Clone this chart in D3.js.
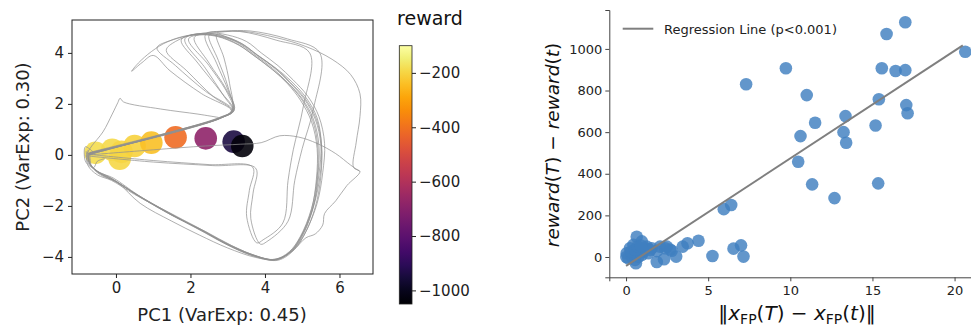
<!DOCTYPE html>
<html><head><meta charset="utf-8">
<script src="https://cdn.jsdelivr.net/npm/d3@7"></script>
<style>body{margin:0;background:#fff}svg{display:block}text{font-family:"DejaVu Sans",sans-serif}</style>
</head><body><svg id="c" width="971" height="326"></svg>
<script>
// ---------- LEFT PANEL DATA (PCA trajectories) ----------
const pcXTicks = [0, 2, 4, 6];
const pcYTicks = [-4, -2, 0, 2, 4];
const rewardTicks = [-200, -400, -600, -800, -1000];
const rewardRange = [-1050, -100];

const trajA1 = [[-0.75,0.05],[-0.7,-0.35],[-0.45,-0.7],[-0.1,-0.95],[0.6,-1.6],[1.5,-2.35],[2.3,-2.95],[3.0,-3.5],[3.7,-3.93],[4.3,-4.12],[4.7,-3.75],[5.0,-3.1],[5.3,-2.0],[5.45,-0.75],[5.5,0.4],[5.35,1.4],[5.05,2.2],[4.65,2.85],[4.3,3.35],[3.8,3.9],[3.4,4.35],[2.8,4.7],[2.2,4.75],[1.6,4.45],[1.35,4.1],[1.9,3.3],[2.6,2.3],[3.1,1.75],[2.8,1.45],[1.3,0.8],[-0.72,0.08]];
const trajA2 = [[-0.78,0.1],[-0.72,-0.3],[-0.5,-0.65],[-0.15,-0.9],[0.55,-1.55],[1.45,-2.3],[2.25,-2.92],[3.05,-3.55],[3.75,-3.97],[4.25,-4.1],[4.65,-3.8],[4.95,-3.2],[5.25,-2.1],[5.4,-0.9],[5.42,0.3],[5.28,1.35],[4.95,2.25],[4.55,2.9],[4.15,3.4],[3.65,3.95],[3.2,4.4],[2.6,4.7],[2.05,4.72],[1.75,4.5],[2.2,3.6],[2.8,2.5],[3.15,1.75],[2.78,1.47],[1.0,0.7],[-0.7,0.02]];
const trajA3 = [[-0.72,0.0],[-0.68,-0.4],[-0.4,-0.75],[0.0,-1.05],[0.7,-1.7],[1.6,-2.45],[2.4,-3.05],[3.1,-3.6],[3.8,-4.0],[4.35,-4.13],[4.8,-3.7],[5.1,-3.0],[5.4,-1.9],[5.55,-0.7],[5.6,0.45],[5.45,1.5],[5.15,2.3],[4.75,2.95],[4.35,3.5],[3.9,4.0],[3.5,4.45],[3.0,4.7],[2.5,4.78],[2.1,4.6],[2.5,3.6],[2.95,2.6],[3.18,1.78],[2.82,1.45],[1.5,0.85],[-0.75,0.06]];
const trajA4 = [[-0.8,0.15],[-0.75,-0.3],[-0.55,-0.6],[-0.2,-0.85],[0.5,-1.5],[1.4,-2.25],[2.2,-2.9],[2.95,-3.5],[3.65,-3.95],[4.25,-4.12],[4.7,-3.8],[5.05,-3.15],[5.35,-2.05],[5.5,-0.85],[5.52,0.35],[5.4,1.45],[5.1,2.25],[4.7,2.9],[4.25,3.45],[3.75,3.95],[3.3,4.4],[2.85,4.65],[2.5,4.7],[2.75,3.7],[3.0,2.7],[3.13,1.72],[2.8,1.46],[0.8,0.6],[-0.72,0.05]];
const trajA5 = [[-0.7,0.05],[-0.65,-0.45],[-0.35,-0.8],[0.05,-1.1],[0.65,-1.9],[1.5,-2.6],[2.25,-3.15],[3.0,-3.65],[3.75,-4.02],[4.3,-4.1],[4.75,-3.72],[5.05,-3.05],[5.32,-1.95],[5.48,-0.8],[5.52,0.35],[5.38,1.4],[5.08,2.2],[4.68,2.85],[4.28,3.4],[3.8,3.92],[3.35,4.38],[3.0,4.6],[2.7,4.72],[2.9,3.8],[3.05,2.8],[3.12,1.74],[2.82,1.44],[2.0,1.1],[-0.7,0.1]];
const trajA6 = [[-0.75,0.2],[-0.72,-0.3],[-0.45,-0.68],[-0.08,-0.9],[0.6,-1.58],[1.45,-2.32],[2.3,-2.95],[3.0,-3.52],[3.7,-3.95],[4.3,-4.1],[4.72,-3.75],[5.02,-3.1],[5.3,-2.0],[5.42,-0.8],[5.45,0.35],[5.3,1.4],[5.0,2.2],[4.6,2.85],[4.2,3.4],[3.7,3.95],[3.2,4.45],[2.6,4.7],[2.0,4.7],[1.4,4.45],[0.95,4.05],[0.6,3.6],[0.42,3.28],[0.7,3.62],[1.0,3.9],[1.45,3.3],[2.3,2.4],[3.1,1.73],[2.78,1.46],[1.6,0.95],[-0.76,0.04]];
const trajA7 = [[-0.8,0.0],[-0.75,-0.42],[-0.5,-0.78],[-0.12,-1.0],[0.5,-1.55],[1.35,-2.2],[2.2,-2.85],[2.95,-3.45],[3.65,-3.9],[4.2,-4.1],[4.65,-3.85],[4.95,-3.25],[5.25,-2.15],[5.38,-0.95],[5.4,0.25],[5.25,1.3],[4.95,2.15],[4.6,2.8],[4.2,3.35],[3.75,3.85],[3.3,4.3],[2.7,4.65],[2.1,4.7],[1.5,4.5],[1.1,4.2],[1.6,3.5],[2.4,2.5],[3.12,1.76],[2.8,1.44],[0.5,0.5],[-0.74,0.0]];
const trajB1 = [[-0.72,0.02],[1.0,-0.22],[2.5,-0.38],[3.67,-0.48],[3.58,-1.4],[3.51,-2.43],[3.78,-3.45],[3.95,-3.33],[4.48,-2.67],[4.62,-1.0],[4.76,0.2],[5.03,1.9],[5.2,4.0],[4.3,4.5],[3.32,4.84],[2.5,4.8],[1.85,4.55],[2.4,3.4],[2.9,2.3],[3.14,1.72],[2.8,1.45],[-0.7,0.06]];
const trajB2 = [[-0.7,-0.05],[1.0,-0.28],[2.6,-0.42],[3.75,-0.52],[3.68,-1.5],[3.62,-2.5],[3.88,-3.5],[4.05,-3.4],[4.62,-2.6],[4.8,-1.0],[5.0,0.25],[5.3,1.8],[5.47,4.0],[4.6,4.55],[3.6,4.86],[2.95,4.85],[2.4,4.72],[2.7,3.6],[3.02,2.5],[3.17,1.74],[2.8,1.45],[-0.72,0.02]];
const trajC = [[-0.74,0.08],[-0.7,-0.35],[-0.45,-0.75],[0.0,-1.05],[0.7,-1.7],[1.55,-2.4],[2.4,-3.0],[3.1,-3.55],[3.8,-3.98],[4.35,-4.1],[4.75,-3.75],[5.1,-3.25],[5.35,-3.1],[5.55,-2.75],[5.6,-2.3],[5.9,-1.8],[6.2,-1.2],[6.55,-0.65],[6.38,-0.5],[6.45,0.5],[6.55,1.5],[6.55,2.4],[6.3,3.15],[5.8,3.75],[5.1,4.25],[4.3,4.6],[3.35,4.85],[2.5,4.75],[1.95,4.55],[2.5,3.5],[3.0,2.4],[3.15,1.75],[2.8,1.44],[-0.72,0.05]];
const trajD = [[-0.72,0.0],[1.0,0.2],[2.4,0.35],[3.35,0.42],[3.9,0.48],[4.4,0.75],[4.9,0.7],[5.4,0.45],[5.9,0.05],[6.3,-0.4],[6.55,-0.65]];
const trajE = [[-0.78,0.05],[-0.65,0.35],[-0.35,0.9],[-0.1,1.6],[0.05,2.05],[0.11,2.22],[0.2,2.08],[1.2,1.8],[2.2,1.6],[2.75,1.47]];
const trajF = [[-0.6,0.1],[-0.82,0.32],[-0.85,0.0],[-0.8,-0.3],[-0.6,-0.5],[-0.5,-0.25],[-0.3,-0.15]];
const trajectories = [trajA1, trajA2, trajA3, trajA4, trajA5, trajA6, trajA7, trajB1, trajB2, trajC, trajD, trajE, trajF];

// fixed points: PC1, PC2, reward
const fpPC1    = [-0.55, 0.1, -0.1, 0.15, 0.5, 0.95, 1.6, 2.41, 3.16, 3.39];
const fpPC2    = [0.08, -0.15, 0.2, 0.12, 0.35, 0.48, 0.69, 0.65, 0.52, 0.35];
const fpReward = [-185, -195, -190, -200, -205, -240, -410, -680, -940, -1035];

// ---------- RIGHT PANEL DATA ----------
const distFP = [17.0,15.86,20.65,9.73,15.57,16.41,17.0,7.31,11.0,15.39,17.06,17.14,13.36,11.51,15.19,10.62,13.24,13.40,10.48,11.33,15.35,12.69,5.95,6.40,4.41,3.74,3.45,5.26,6.54,7.0,7.15,3.05,2.78,2.31,1.87,
  0.65,0.96,0.04,0.02,0.24,0.45,0.35,0.55,0.6,0.85,1.05,1.26,1.36,1.56,1.87,2.07,2.38,2.68,0.14,0.45,0.75,0.96,0.3,0.55,1.2,2.48,1.46,0.7,0.9];
const rewardDiff = [1128,1072,986,907,907,894,898,830,778,758,730,691,677,645,632,581,600,549,458,349,354,283,230,250,78,66,50,5,40,56,2,2,30,-11,-24,
  97,75,18,0,42,58,1,-14,-30,34,26,50,18,42,28,50,42,36,-6,18,1,10,25,35,40,50,34,50,55];
const regSlope = 51.7, regIntercept = -43;
const regXRange = [0, 20.5];
const distTicks = [0, 5, 10, 15, 20];
const diffTicks = [0, 200, 400, 600, 800, 1000];

// ---------- DRAW ----------
const fmt = d3.format("d");
const svg = d3.select("#c");
svg.append("rect").attr("width",971).attr("height",326).attr("fill","#fff");

// Left panel
const xL = d3.scaleLinear().domain([-1.18, 6.9]).range([72, 373]);
const yL = d3.scaleLinear().domain([-4.67, 5.29]).range([274, 20]);
const color = d3.scaleSequential(d3.interpolateInferno).domain(rewardRange);

const left = svg.append("g");
left.append("defs").append("clipPath").attr("id","clipL").append("rect")
  .attr("x",72).attr("y",20).attr("width",301).attr("height",254);

const fps = fpPC1.map((d,i)=>({x:d,y:fpPC2[i],r:fpReward[i]}));
left.append("g").attr("clip-path","url(#clipL)").selectAll("circle").data(fps).join("circle")
  .attr("cx",d=>xL(d.x)).attr("cy",d=>yL(d.y)).attr("r",11.3)
  .attr("fill",d=>color(d.r)).attr("fill-opacity",0.9);

const line = d3.line().x(d=>xL(d[0])).y(d=>yL(d[1])).curve(d3.curveCatmullRom.alpha(0.5));
left.append("g").attr("clip-path","url(#clipL)").selectAll("path").data(trajectories).join("path")
  .attr("d",line).attr("fill","none").attr("stroke","#909090").attr("stroke-opacity",0.72).attr("stroke-width",1);

left.append("rect").attr("x",72).attr("y",20).attr("width",301).attr("height",254)
  .attr("fill","none").attr("stroke","#222").attr("stroke-width",1);

const axL = left.append("g").attr("transform","translate(0,274)")
  .call(d3.axisBottom(xL).tickValues(pcXTicks).tickFormat(fmt).tickSize(4).tickPadding(4));
const ayL = left.append("g").attr("transform","translate(72,0)")
  .call(d3.axisLeft(yL).tickValues(pcYTicks).tickFormat(fmt).tickSize(4).tickPadding(4));
[axL, ayL].forEach(g=>{g.select(".domain").remove();
  g.selectAll("text").attr("font-size",15).attr("fill","#222").attr("font-family","DejaVu Sans");
  g.selectAll("line").attr("stroke","#222");});

left.append("text").attr("x",222).attr("y",321).attr("text-anchor","middle")
  .attr("font-size",18).attr("fill","#222").text("PC1 (VarExp: 0.45)");
left.append("text").attr("transform","translate(29,147) rotate(-90)").attr("text-anchor","middle")
  .attr("font-size",18).attr("fill","#222").text("PC2 (VarExp: 0.30)");

// colorbar
const cb = svg.append("g");
const grad = cb.append("defs").append("linearGradient").attr("id","gradR")
  .attr("x1",0).attr("y1",1).attr("x2",0).attr("y2",0);
d3.range(0, 1.0001, 0.05).forEach(t=>grad.append("stop").attr("offset",t).attr("stop-color",d3.interpolateInferno(t)));
const yC = d3.scaleLinear().domain(rewardRange).range([304, 45.7]);
cb.append("rect").attr("x",399.3).attr("y",45.7).attr("width",12.7).attr("height",258.3)
  .attr("fill","url(#gradR)").attr("stroke","#222").attr("stroke-width",0.8);
const acb = cb.append("g").attr("transform","translate(412,0)")
  .call(d3.axisRight(yC).tickValues(rewardTicks).tickFormat(fmt).tickSize(4).tickPadding(3));
acb.select(".domain").remove();
acb.selectAll("text").attr("font-size",15).attr("fill","#222").attr("font-family","DejaVu Sans");
acb.selectAll("line").attr("stroke","#222");
cb.append("text").attr("x",430).attr("y",25).attr("text-anchor","middle")
  .attr("font-size",18).attr("fill","#111").attr("font-family","Liberation Sans").attr("font-size",19).text("reward");

// Right panel
const xR = d3.scaleLinear().domain([-1.02, 21.0]).range([609.3, 971]);
const yR = d3.scaleLinear().domain([-97.6, 1187]).range([277.3, 10]);
const right = svg.append("g");
const pts = distFP.map((d,i)=>({x:d,y:rewardDiff[i]}));
right.append("g").selectAll("circle").data(pts).join("circle")
  .attr("cx",d=>xR(d.x)).attr("cy",d=>yR(d.y)).attr("r",6.3)
  .attr("fill","#3f7fbf").attr("fill-opacity",0.82);
right.append("line")
  .attr("x1",xR(regXRange[0])).attr("y1",yR(regIntercept+regSlope*regXRange[0]))
  .attr("x2",xR(regXRange[1])).attr("y2",yR(regIntercept+regSlope*regXRange[1]))
  .attr("stroke","#7f7f7f").attr("stroke-width",2);

const axR = right.append("g").attr("transform","translate(0,277.3)")
  .call(d3.axisBottom(xR).tickValues(distTicks).tickFormat(fmt).tickSize(4).tickPadding(4));
const ayR = right.append("g").attr("transform","translate(609.3,0)")
  .call(d3.axisLeft(yR).tickValues(diffTicks).tickFormat(fmt).tickSize(4).tickPadding(3));
[axR, ayR].forEach(g=>{
  g.selectAll("text").attr("font-size",13).attr("fill","#222").attr("font-family","DejaVu Sans");
  g.selectAll("line").attr("stroke","#444");
  g.select(".domain").attr("stroke","#444");});

// legend
right.append("line").attr("x1",622.7).attr("x2",653.3).attr("y1",28.7).attr("y2",28.7)
  .attr("stroke","#7f7f7f").attr("stroke-width",2);
right.append("text").attr("x",664).attr("y",33.5).attr("font-size",13).attr("fill","#222")
  .text("Regression Line (p<0.001)");

// y label (math)
const yl = right.append("text").attr("transform","translate(559,145) rotate(-90)")
  .attr("text-anchor","middle").attr("font-size",18.5).attr("fill","#111");
yl.append("tspan").attr("font-style","italic").text("reward");
yl.append("tspan").text("(");
yl.append("tspan").attr("font-style","italic").text("T");
yl.append("tspan").text(") − ");
yl.append("tspan").attr("font-style","italic").text("reward");
yl.append("tspan").text("(");
yl.append("tspan").attr("font-style","italic").text("t");
yl.append("tspan").text(")");

// x label (math)
const xl = right.append("text").attr("x",797).attr("y",320).attr("text-anchor","middle")
  .attr("font-size",20).attr("fill","#111");
xl.append("tspan").text("‖");
xl.append("tspan").attr("font-style","italic").text("x");
xl.append("tspan").attr("font-size",14).attr("dy",4).text("FP");
xl.append("tspan").attr("dy",-4).text("(");
xl.append("tspan").attr("font-style","italic").text("T");
xl.append("tspan").text(") − ");
xl.append("tspan").attr("font-style","italic").text("x");
xl.append("tspan").attr("font-size",14).attr("dy",4).text("FP");
xl.append("tspan").attr("dy",-4).text("(");
xl.append("tspan").attr("font-style","italic").text("t");
xl.append("tspan").text(")‖");
</script></body></html>
